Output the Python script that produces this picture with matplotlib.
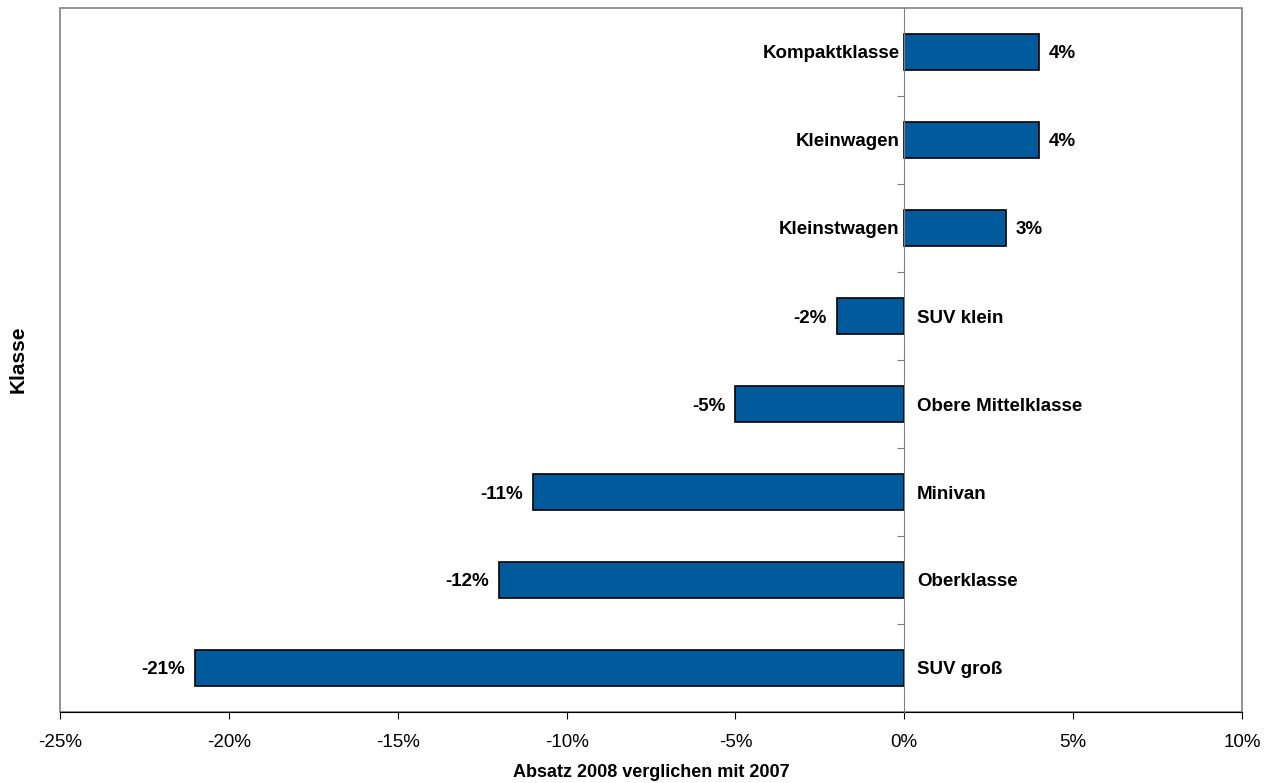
import matplotlib.pyplot as plt
from matplotlib.patches import Rectangle
from matplotlib.ticker import FuncFormatter

plt.rcParams['font.family'] = ['Liberation Sans', 'DejaVu Sans']

# Absatzveränderung 2008 gegenüber 2007 je Fahrzeugklasse
klassen = ["SUV groß", "Oberklasse", "Minivan", "Obere Mittelklasse",
           "SUV klein", "Kleinstwagen", "Kleinwagen", "Kompaktklasse"]
veraenderung = [-21, -12, -11, -5, -2, 3, 4, 4]

fig, ax = plt.subplots(figsize=(12.8, 7.83), dpi=100)
fig.subplots_adjust(left=60 / 1280, right=1242 / 1280, top=1 - 8 / 783, bottom=1 - 712 / 783)

pos = range(len(klassen))
ax.barh(pos, veraenderung, height=0.42, color="#005A9C", edgecolor="black", linewidth=1.2, zorder=3)

ax.set_xlim(-25, 10)
ax.set_ylim(-0.5, len(klassen) - 0.5)
ax.set_xticks(range(-25, 11, 5))
ax.xaxis.set_major_formatter(FuncFormatter(lambda v, p: f"{v:.0f}%"))
ax.tick_params(axis="x", direction="out", length=5, labelsize=13.5, pad=11)

# zero line acts as the category axis, ticks between the classes
for s in ("top", "right"):
    ax.spines[s].set_visible(False)
ax.spines["left"].set_position(("data", 0))
ax.spines["left"].set_color("#808080")
ax.spines["left"].set_zorder(4)
ax.set_yticks([i + 0.5 for i in range(len(klassen) - 1)])
ax.set_yticklabels([])
ax.tick_params(axis="y", direction="out", length=5, color="#808080")
ax.add_patch(Rectangle((0, 0), 1, 1, transform=ax.transAxes, fill=False,
                       edgecolor="#808080", linewidth=1.2, zorder=1, clip_on=False))

for i, (k, v) in enumerate(zip(klassen, veraenderung)):
    if v >= 0:
        ax.annotate(k, (0, i), xytext=(-3.5, 0), textcoords="offset points",
                    ha="right", va="center_baseline", fontsize=13.5, fontweight="bold")
        ax.annotate(f"{v}%", (v, i), xytext=(7, 0), textcoords="offset points",
                    ha="left", va="center_baseline", fontsize=13.5, fontweight="bold")
    else:
        ax.annotate(k, (0, i), xytext=(9, 0), textcoords="offset points",
                    ha="left", va="center_baseline", fontsize=13.5, fontweight="bold")
        ax.annotate(f"{v}%", (v, i), xytext=(-7, 0), textcoords="offset points",
                    ha="right", va="center_baseline", fontsize=13.5, fontweight="bold")

ax.set_xlabel("Absatz 2008 verglichen mit 2007", fontsize=13, fontweight="bold", labelpad=9)
fig.text(18 / 1280, 1 - 359 / 783, "Klasse", rotation=90, ha="center", va="center",
         fontsize=15, fontweight="bold")

fig.savefig("out.png", dpi=100)
